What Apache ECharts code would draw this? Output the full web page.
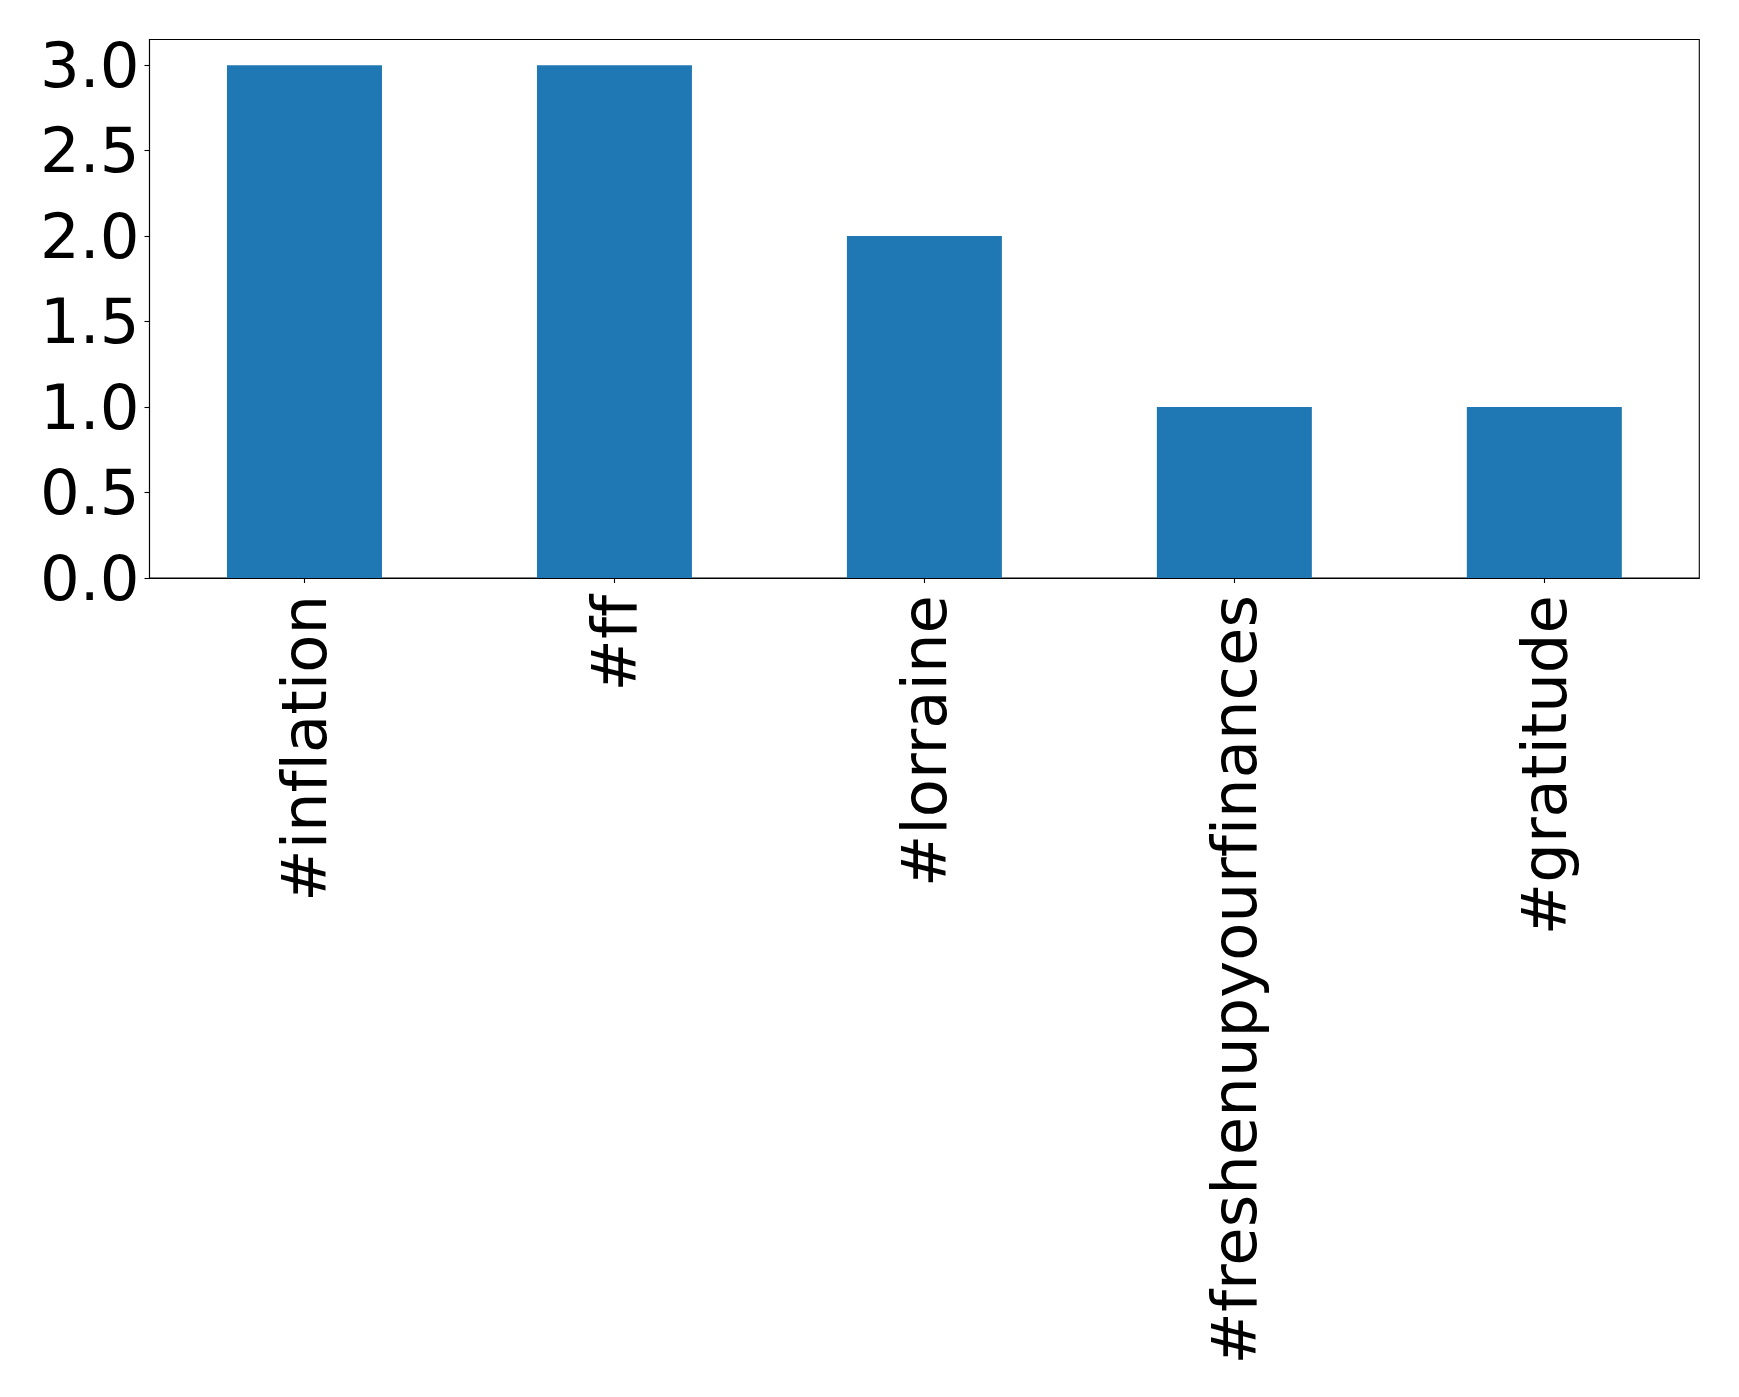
<!DOCTYPE html>
<html>
<head>
<meta charset="utf-8">
<script src="https://cdn.jsdelivr.net/npm/echarts@6/dist/echarts.min.js"></script>
<style>
html,body{margin:0;padding:0;background:#fff;}
#chart{width:1739px;height:1397px;}
#chart text{font-variant-ligatures:none;font-feature-settings:"liga" 0,"clig" 0;}
</style>
</head>
<body>
<div id="chart"></div>
<script>
const categories = ['#inflation', '#ff', '#lorraine', '#freshenupyourfinances', '#gratitude'];
const counts = [3, 3, 2, 1, 1];
const yTicks = [0, 0.5, 1.0, 1.5, 2.0, 2.5, 3.0];

const chart = echarts.init(document.getElementById('chart'), null, {renderer: 'svg'});
const font = 'DejaVu Sans';
chart.setOption({
  animation: false,
  backgroundColor: '#ffffff',
  grid: {
    left: 149.5, right: 39.7, top: 39.5, bottom: 819,
    show: true, borderColor: '#000000', borderWidth: 1.1, backgroundColor: 'transparent'
  },
  xAxis: {
    type: 'category',
    data: categories,
    axisLine: {show: true, lineStyle: {color: '#000000', width: 1.1}},
    axisTick: {show: true, alignWithLabel: true, length: 5, lineStyle: {color: '#000000', width: 1.1}},
    axisLabel: {
      rotate: 90, margin: 17, color: '#000000', fontFamily: font, fontSize: 62.5, interval: 0
    },
    splitLine: {show: false}
  },
  yAxis: {
    type: 'value',
    min: 0, max: 3.15,
    axisLine: {show: true, lineStyle: {color: '#000000', width: 1.1}},
    axisTick: {show: true, length: 5, lineStyle: {color: '#000000', width: 1.1}, customValues: yTicks},
    axisLabel: {
      color: '#000000', fontFamily: font, fontSize: 62.5, margin: 10,
      customValues: yTicks,
      formatter: v => Number(v).toFixed(1)
    },
    splitLine: {show: false}
  },
  series: [{
    type: 'bar',
    data: counts,
    barWidth: '50%',
    itemStyle: {color: '#1f77b4'}
  }]
});
</script>
</body>
</html>
